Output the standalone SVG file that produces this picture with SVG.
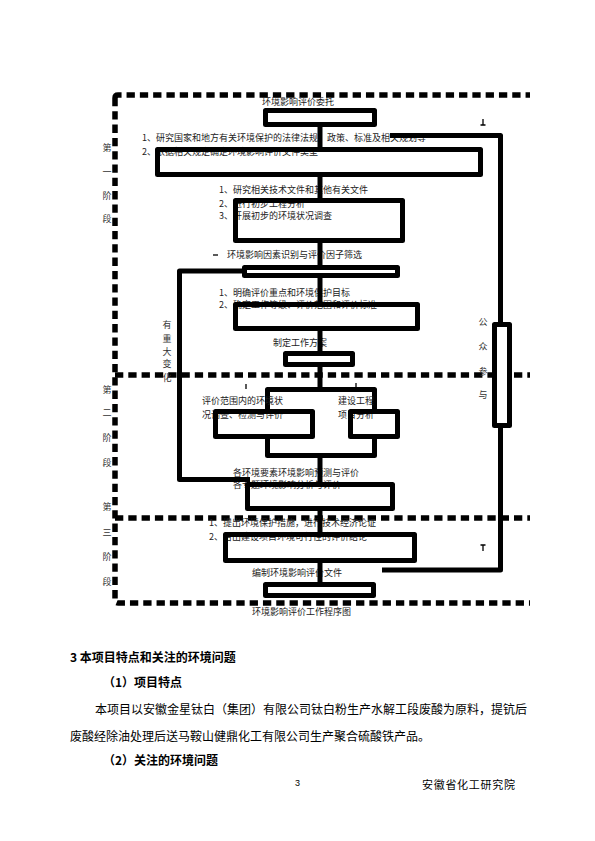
<svg xmlns="http://www.w3.org/2000/svg" width="595" height="841" viewBox="0 0 595 841">
<style>
.box{fill:none;stroke:#000;stroke-width:5;stroke-linejoin:round}
.wfill{fill:#fff;stroke:none}
.ln{fill:none;stroke:#000;stroke-width:5}
.thin{fill:none;stroke:#000;stroke-width:1.3}
.dash{fill:none;stroke:#000;stroke-width:5.5;stroke-dasharray:8.3 5;stroke-linejoin:round}
.t{font-family:"Noto Sans CJK SC","Liberation Sans",sans-serif;font-size:9px;fill:#222}
.v{font-family:"Noto Sans CJK SC","Liberation Sans",sans-serif;font-size:9px;fill:#333;text-anchor:middle}
.b{font-family:"Noto Sans CJK SC","Liberation Sans",sans-serif;font-size:12px;fill:#000}
.h{font-family:"Noto Sans CJK SC","Liberation Sans",sans-serif;font-size:12px;fill:#000;font-weight:bold}
</style>
<rect width="595" height="841" fill="#fff"/>

<g id="stages">
  <path class="dash" d="M115 98 Q115 95 118 95 H530"/>
  <path class="dash" d="M115 98 V600 Q115 603 118 603 H530"/>
  <path class="dash" d="M115 375 H530"/>
  <path class="dash" d="M115 518 H530"/>
  <text class="v" x="107" y="151">第</text>
  <text class="v" x="107" y="175">一</text>
  <text class="v" x="107" y="199">阶</text>
  <text class="v" x="107" y="222">段</text>
  <text class="v" x="107" y="393">第</text>
  <text class="v" x="107" y="416">二</text>
  <text class="v" x="107" y="441">阶</text>
  <text class="v" x="107" y="466">段</text>
  <text class="v" x="107" y="510">第</text>
  <text class="v" x="107" y="536">三</text>
  <text class="v" x="107" y="560">阶</text>
  <text class="v" x="107" y="585">段</text>
</g>

<g id="n1">
  <text class="t" x="262" y="105">环境影响评价委托</text>
  <rect class="box" x="265.5" y="110.5" width="109" height="14"/>
</g>
<g id="n2">
  <text class="t" x="142" y="141">1、研究国家和地方有关环境保护的法律法规、政策、标准及相关规划等</text>
  <text class="t" x="142" y="155">2、依据相关规定确定环境影响评价文件类型</text>
  <rect class="box" x="157.5" y="149.5" width="323" height="25"/>
</g>
<g id="n3">
  <text class="t" x="219" y="193">1、研究相关技术文件和其他有关文件</text>
  <text class="t" x="219" y="207">2、进行初步工程分析</text>
  <text class="t" x="219" y="219">3、开展初步的环境状况调查</text>
  <rect class="box" x="235.5" y="200.5" width="167" height="40"/>
</g>
<g id="n4">
  <text class="t" x="227" y="258">环境影响因素识别与评价因子筛选</text>
  <rect class="box" x="244.5" y="267.5" width="153" height="8"/>
</g>
<g id="n5">
  <text class="t" x="219" y="296">1、明确评价重点和环境保护目标</text>
  <text class="t" x="219" y="308">2、确定工作等级、评价范围和评价标准</text>
  <rect class="box" x="235.5" y="304.5" width="182" height="24"/>
</g>
<g id="n6">
  <text class="t" x="273" y="346">制定工作方案</text>
  <rect class="box" x="285.5" y="353.5" width="67" height="11"/>
</g>
<g id="n7">
  <rect class="box" x="267.5" y="389.5" width="107" height="66"/>
  <rect class="wfill" x="213" y="409" width="102" height="30"/>
  <rect class="wfill" x="348" y="409" width="52" height="30"/>
  <text class="t" x="202" y="404">评价范围内的环境状</text>
  <text class="t" x="202" y="418">况调查、检测与评价</text>
  <text class="t" x="338" y="404">建设工程</text>
  <text class="t" x="338" y="418">项目分析</text>
  <rect class="box" x="215.5" y="411.5" width="97" height="25"/>
  <rect class="box" x="350.5" y="411.5" width="47" height="25"/>
</g>
<g id="n8">
  <text class="t" x="233" y="476">各环境要素环境影响预测与评价</text>
  <text class="t" x="233" y="488">各专题环境影响分析与评价</text>
  <rect class="box" x="247.5" y="484.5" width="145" height="24"/>
</g>
<g id="n9">
  <text class="t" x="209" y="526">1、提出环境保护措施，进行技术经济论证</text>
  <text class="t" x="209" y="540">2、给出建设项目环境可行性的评价结论</text>
  <rect class="box" x="225.5" y="534.5" width="189" height="26"/>
</g>
<g id="n10">
  <text class="t" x="252" y="576">编制环境影响评价文件</text>
  <rect class="box" x="265.5" y="584.5" width="108" height="11"/>
</g>
<g id="loopLabel">
  <text class="v" x="167" y="328">有</text>
  <text class="v" x="167" y="342">重</text>
  <text class="v" x="167" y="355">大</text>
  <text class="v" x="167" y="367">变</text>
  <text class="v" x="167" y="381">化</text>
</g>

<g id="connectors">
  <path class="ln" d="M320 127 V147"/>
  <path class="ln" d="M320 177 V198"/>
  <path class="ln" d="M320 243 V265"/>
  <path class="ln" d="M320 278 V302"/>
  <path class="ln" d="M320 331 V351"/>
  <path class="ln" d="M320 367 V387"/>
  <path class="ln" d="M320 458 V482"/>
  <path class="ln" d="M320 511 V532"/>
  <path class="ln" d="M320 563 V582"/>
  <path class="ln" d="M244 271 H179.5 V479.5 H250" stroke-linejoin="round"/>
  <path class="ln" d="M390 135.5 H500.5 V322" stroke-linejoin="round"/>
  <path class="ln" d="M500.5 428 V570 H382" stroke-linejoin="round"/>
  <path class="thin" d="M483 119 V125 M480.5 125 H485.5"/>
  <path class="thin" d="M483 545 V551 M480.5 545 H485.5"/>
  <path class="thin" d="M213 255 H218"/>
  <path class="thin" d="M246 384 V389"/>
  <path class="thin" d="M356 383 V387"/>
</g>

<g id="public">
  <text class="v" x="483" y="325">公</text>
  <text class="v" x="483" y="350">众</text>
  <text class="v" x="483" y="375">参</text>
  <text class="v" x="483" y="398">与</text>
  <rect class="box" x="494.5" y="324.5" width="15" height="101" style="fill:#fff"/>
</g>

<text class="t" x="252" y="615">环境影响评价工作程序图</text>

<g id="body">
  <text class="h" x="70" y="662">3 本项目特点和关注的环境问题</text>
  <text class="h" x="103" y="687">（1）项目特点</text>
  <text class="b" x="95" y="714">本项目以安徽金星钛白（集团）有限公司钛白粉生产水解工段废酸为原料，提钪后</text>
  <text class="b" x="70" y="741">废酸经除油处理后送马鞍山健鼎化工有限公司生产聚合硫酸铁产品。</text>
  <text class="h" x="103" y="765">（2）关注的环境问题</text>
  <text font-family="Liberation Sans,sans-serif" font-size="9" x="295" y="786">3</text>
  <text class="b" x="422" y="789" style="font-size:11px;letter-spacing:0.7px">安徽省化工研究院</text>
</g>
</svg>
